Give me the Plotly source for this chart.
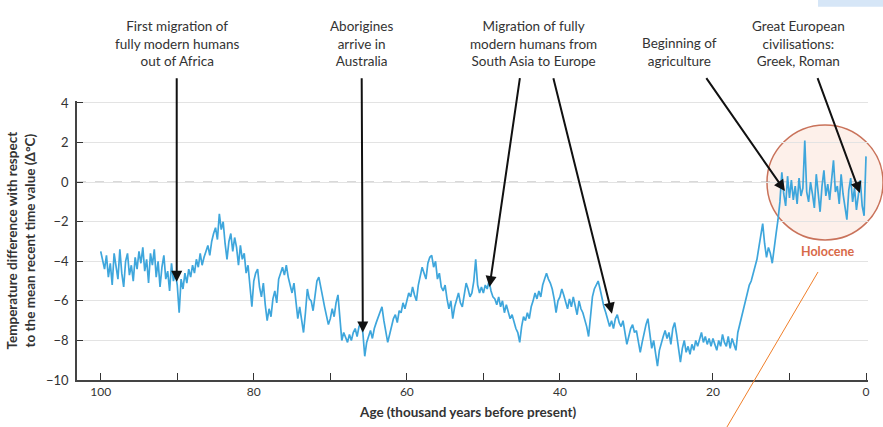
import numpy as np
import plotly.graph_objects as go

# Temperature anomaly (deg C), one value every 250 years, 100 ka -> 0 ka
temp_100_80 = [
    -3.5, -3.9, -4.4, -3.7, -4.8, -4.1, -5.2, -3.6, -4.3, -4.9, -3.4, -4.6, -5.3, -4.0, -3.6, -4.7, -4.2, -5.0, -3.8, -4.4,
    -3.5, -4.1, -3.3, -4.5, -3.9, -5.1, -3.6, -4.2, -3.4, -4.8, -4.0, -5.3, -4.3, -3.7, -4.9, -4.5, -5.5, -4.1, -5.0, -4.6,
    -5.2, -6.6, -4.9, -5.4, -4.6, -5.1, -4.4, -4.8, -4.2, -4.6, -3.9, -4.3, -3.6, -4.2, -3.8, -3.5, -3.2, -3.7, -3.0, -2.6,
    -2.3, -2.9, -1.6, -2.4, -2.0, -3.1, -3.9, -3.0, -2.6, -3.5, -2.8, -3.3, -4.2, -3.2, -3.9, -3.6, -4.6, -4.2, -5.3, -6.3,
]
temp_80_60 = [
    -5.0, -4.6, -4.4, -5.3, -5.8, -5.1, -6.2, -7.0, -6.4, -6.8, -5.9, -5.5, -6.1, -4.9, -4.6, -4.3, -4.7, -4.2, -4.8, -5.2,
    -5.6, -5.1, -6.2, -6.9, -6.3, -7.1, -7.6, -6.6, -5.4, -5.9, -6.0, -6.5, -5.7, -5.0, -4.8, -5.4, -5.8, -6.3, -6.8, -7.2,
    -6.9, -6.4, -6.8, -6.1, -5.7, -6.9, -8.0, -7.6, -7.9, -8.1, -7.7, -8.0, -7.6, -7.4, -7.8, -7.3, -7.1, -7.6, -8.8, -8.1,
    -7.8, -7.5, -7.9, -7.4, -7.1, -6.8, -6.5, -6.3, -7.0, -7.6, -8.1, -7.7, -7.3, -6.9, -6.7, -7.1, -6.5, -6.6, -6.1, -6.4,
]
temp_60_40 = [
    -6.0, -5.6, -5.8, -5.3, -5.7, -6.0, -5.2, -4.8, -4.3, -4.6, -4.9, -4.1, -3.8, -3.7, -4.3, -4.0, -4.9, -4.6, -5.3, -5.5,
    -5.2, -5.9, -6.4, -6.0, -6.9, -6.3, -5.9, -5.6, -6.1, -6.3, -5.7, -5.1, -5.4, -5.8, -5.6, -5.0, -3.9, -5.2, -5.6, -5.3,
    -5.6, -5.2, -5.4, -5.0, -5.5, -5.8, -5.9, -6.2, -5.8, -6.3, -6.0, -6.6, -6.2, -6.5, -6.9, -6.7, -7.1, -7.4, -7.6, -8.1,
    -7.3, -6.8, -7.0, -6.6, -6.9, -6.3, -6.0, -5.6, -5.9, -5.5, -5.8, -5.2, -4.9, -4.6, -4.9, -5.1, -5.4, -5.9, -6.6, -6.0,
]
temp_40_20 = [
    -5.8, -5.4, -5.7, -6.1, -6.4, -5.9, -6.3, -5.8, -6.2, -6.7, -6.0, -6.4, -6.6, -6.9, -7.3, -7.8, -6.9, -5.8, -5.4, -5.2,
    -5.0, -5.4, -5.9, -6.3, -6.6, -6.9, -7.3, -7.0, -7.4, -6.9, -6.7, -7.1, -7.3, -7.0, -7.7, -8.2, -7.8, -7.4, -7.2, -7.6,
    -7.5, -8.0, -8.6, -8.1, -7.6, -7.2, -6.9, -7.7, -8.4, -8.0, -8.7, -9.3, -8.5, -8.1, -7.8, -7.5, -7.9, -7.6, -8.2, -7.4,
    -7.1, -7.7, -8.5, -9.1, -8.4, -8.0, -8.6, -8.3, -8.7, -8.2, -8.5, -8.0, -8.3, -7.9, -7.6, -8.1, -7.8, -8.2, -7.9, -8.3,
]
temp_20_0 = [
    -7.9, -8.2, -8.5, -8.0, -8.3, -7.7, -8.1, -8.3, -7.8, -8.4, -7.9, -8.2, -8.5, -7.6, -7.2, -6.8, -6.5, -6.0, -5.7, -5.2,
    -5.0, -4.6, -4.3, -3.9, -3.3, -2.6, -2.1, -3.1, -3.8, -3.3, -3.6, -4.1, -3.2, -2.6, -1.9, -1.0, 0.5, -0.6, -1.2, 0.3,
    -0.8, 0.1, -0.9, -0.2, -1.1, 0.2, -0.7, -0.3, 2.1, -0.5, -1.0, 0.0, -0.6, -1.3, 0.4, -0.4, -1.5, -0.2, 0.6, -0.7,
    -0.1, -0.9, 0.3, 1.1, -0.5, -0.2, -1.1, 0.4, -0.6, -1.3, -1.9, -0.4, 0.2, -1.0, -0.3, -1.4, -0.6, 0.1, -1.2, -1.7, 1.3,
]
temperature = temp_100_80 + temp_80_60 + temp_60_40 + temp_40_20 + temp_20_0
age = np.linspace(100, 0, len(temperature))  # thousand years before present

x_ticks = [100, 90, 80, 70, 60, 50, 40, 30, 20, 10, 0]
x_tick_labels = ['100', '', '80', '', '60', '', '40', '', '20', '', '0']
y_ticks = [4, 2, 0, -2, -4, -6, -8, -10]

# events: label, label centre age, arrow tail age, arrow head (age, temp)
events = [
    ("First migration of<br>fully modern humans<br>out of Africa", 90.07, 90.07, 90.07, -5.03),
    ("Aborigines<br>arrive in<br>Australia", 65.9, 65.9, 65.75, -7.6),
    ("Migration of fully<br>modern humans from<br>South Asia to Europe", 43.5, 45.2, 49.2, -5.3),
    (None, 43.5, 40.9, 33.2, -6.65),
    ("Beginning of<br>agriculture", 24.4, 21.0, 10.6, -0.45),
    ("Great European<br>civilisations:<br>Greek, Roman", 8.8, 6.4, 0.8, -0.55),
]
tail_temp = 5.33

FONT = "Lato"
TXT = "#333333"

fig = go.Figure()
fig.add_trace(go.Scatter(
    x=age, y=temperature, mode='lines',
    line=dict(color='#3ea6dc', width=1.7),
    hoverinfo='skip', showlegend=False,
))

# Holocene highlight
fig.add_shape(type='circle', xref='paper', yref='paper',
              x0=0.8723, x1=1.019, y0=0.5018, y1=0.914,
              fillcolor='rgba(245,170,140,0.18)', line=dict(color='#c9725a', width=1.5),
              layer='below')
fig.add_annotation(xref='paper', yref='paper', x=0.9494, y=0.4588, text='<b>Holocene</b>',
                   xanchor='center', yanchor='middle',
                   showarrow=False, font=dict(family=FONT, size=12.5, color='#d86a48'))
fig.add_shape(type='line', xref='paper', yref='paper',
              x0=0.8217, y0=-0.1685, x1=0.9368, y1=0.3871,
              line=dict(color='#f07f2a', width=1))
# small light-blue strip in the top-right corner of the original image
fig.add_shape(type='rect', xref='paper', yref='paper',
              x0=0.9368, x1=1.03, y0=1.338, y1=1.40,
              fillcolor='#d6e6f7', line=dict(width=0), layer='above')

# dashed zero line
fig.add_shape(type='line', xref='paper', yref='y', x0=0, x1=0.99, y0=0, y1=0,
              line=dict(color='#999999', width=1, dash='dash'), layer='below')

for label, tx, ax, hx, hy in events:
    fig.add_annotation(x=hx, y=hy, ax=ax, ay=tail_temp, xref='x', yref='y',
                       axref='x', ayref='y', showarrow=True, arrowhead=2,
                       arrowsize=1.1, arrowwidth=2, arrowcolor='#111111', text='')
    if label:
        fig.add_annotation(x=tx, y=1.1075, xref='x', yref='paper', text=label,
                           showarrow=False, xanchor='center', yanchor='bottom', align='center',
                           font=dict(family=FONT, size=13.5, color=TXT))

fig.add_annotation(xref='paper', yref='paper', x=-0.0708, y=0.5, textangle=-90,
                   xanchor='center', yanchor='middle',
                   text='<b>Temperature difference with respect<br>to the mean recent time value (Δ°C)</b>',
                   showarrow=False, font=dict(family=FONT, size=13.5, color=TXT))
fig.add_annotation(xref='paper', yref='paper', x=0.4943, y=-0.1147,
                   xanchor='center', yanchor='middle',
                   text='<b>Age (thousand years before present)</b>',
                   showarrow=False, font=dict(family=FONT, size=13.5, color=TXT))

fig.update_layout(
    width=883, height=427,
    margin=dict(l=77, r=15, t=101, b=47),
    paper_bgcolor='white', plot_bgcolor='white',
    font=dict(family=FONT, size=12, color=TXT),
    xaxis=dict(range=[103.1, -0.26], tickvals=x_ticks, ticktext=x_tick_labels,
               ticks='inside', ticklen=7, tickwidth=1.3, tickcolor='#333',
               showline=True, linecolor='#444', linewidth=1.5,
               showgrid=False, zeroline=False, tickfont=dict(size=12)),
    yaxis=dict(range=[-10, 4.1], tickvals=y_ticks,
               ticks='inside', ticklen=6, tickwidth=1.3, tickcolor='#333',
               showline=True, linecolor='#444', linewidth=1.5,
               showgrid=True, gridcolor='#e3e3e3', gridwidth=1,
               zeroline=False, ticklabelstandoff=4, tickfont=dict(size=13)),
)

fig.write_html("out.html", config={'displayModeBar': False},
               post_script="document.body.style.margin='0';")
